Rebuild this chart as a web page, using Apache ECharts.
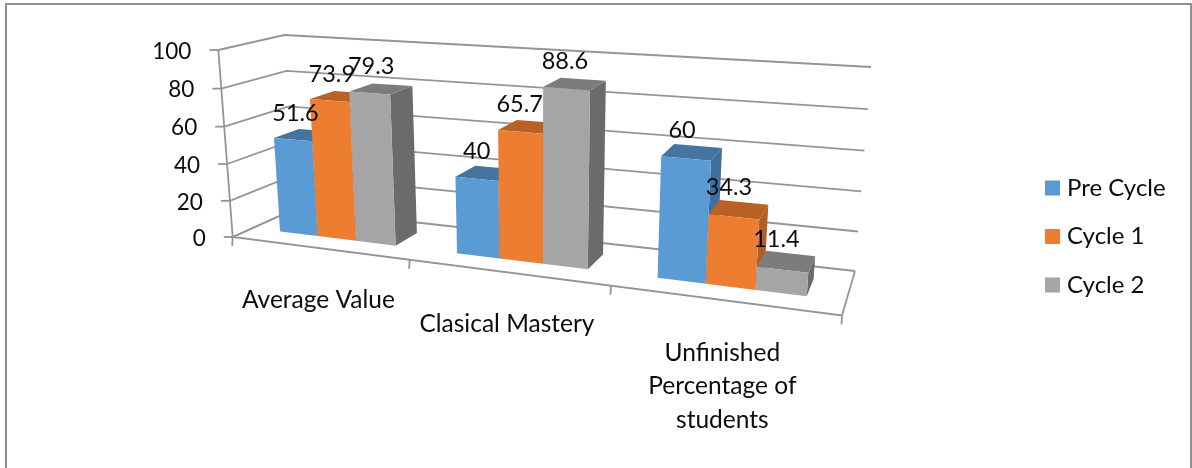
<!DOCTYPE html>
<html>
<head>
<meta charset="utf-8">
<style>html,body{margin:0;padding:0;background:#fff}#chart{width:1192px;height:468px}</style>
<script src="https://cdn.jsdelivr.net/npm/echarts@6/dist/echarts.min.js"></script>
</head>
<body>
<div id="chart"></div>
<script>
// Chart values
const categories = ['Average Value', 'Clasical Mastery', 'Unfinished\nPercentage of\nstudents'];
const preCycle = [51.6, 40, 60];
const cycle1 = [73.9, 65.7, 34.3];
const cycle2 = [79.3, 88.6, 11.4];
const valueTicks = [0, 20, 40, 60, 80, 100];

const FONT = 'Lato, Carlito, "Open Sans", sans-serif';
const AXIS_SIZE = 22.5;
const DATA_SIZE = 23.5;
const WORD_SIZE = 24.5;
const TEXT = '#0c0c0c';
const LINE = '#959595';

// Floor corners of the plot box on the page, and the full box height at each of them.
const floorFL = [232.7, 237], floorFR = [842, 315.5], floorBR = [855, 271], floorBL = [295, 209];
const heightFL = 187, heightFR = 219, heightBR = 204, heightBL = 174;
// Upright edges converge on a point far below the plot, above this x.
const VANISH_X = 540, VANISH_RATE = 2.5e-4;

// Homography from the unit square (u along the categories, d into the depth).
function squareHomography(p0, p1, p2, p3) {
  const dx1 = p1[0] - p2[0], dx2 = p3[0] - p2[0], sx = p0[0] - p1[0] + p2[0] - p3[0];
  const dy1 = p1[1] - p2[1], dy2 = p3[1] - p2[1], sy = p0[1] - p1[1] + p2[1] - p3[1];
  const det = dx1 * dy2 - dx2 * dy1;
  const g = (sx * dy2 - dx2 * sy) / det, h = (dx1 * sy - sx * dy1) / det;
  const a = p1[0] - p0[0] + g * p1[0], b = p3[0] - p0[0] + h * p3[0];
  const d = p1[1] - p0[1] + g * p1[1], e = p3[1] - p0[1] + h * p3[1];
  return (u, t) => {
    const w = g * u + h * t + 1;
    return [(a * u + b * t + p0[0]) / w, (d * u + e * t + p0[1]) / w];
  };
}
const floorAt = squareHomography(floorFL, floorFR, floorBR, floorBL);

const U_SKEW = 1.0775;    // foreshortening along the category direction
const V_SKEW = 0.96;      // foreshortening along the height
function project(u, d, v) {
  const us = U_SKEW * u / (1 - u + U_SKEW * u);
  const vs = V_SKEW * v / (1 - v + V_SKEW * v);
  const f = floorAt(us, d);
  const front = heightFL + (heightFR - heightFL) * us;
  const back = heightBL + (heightBR - heightBL) * us;
  const rise = (front + (back - front) * d) * vs;
  return [f[0] + (f[0] - VANISH_X) * VANISH_RATE * rise, f[1] - rise];
}

// Hidden axes carry the scales; their pixel output is normalised, then projected.
const chart = echarts.init(document.getElementById('chart'), null, { renderer: 'canvas' });
const GRID = { left: 100, top: 50, width: 900, height: 300 };
const normU = px => (px - GRID.left) / GRID.width;
const normV = py => (GRID.top + GRID.height - py) / GRID.height;

const poly = (points, fill, z2) => ({ type: 'polygon', shape: { points }, style: { fill, stroke: null }, z2 });
const seg = (points) => ({ type: 'polyline', shape: { points }, style: { fill: null, stroke: LINE, lineWidth: 1.8 }, z2: 0 });
const label = (x, y, text, align, size, extra) => ({
  type: 'text', z2: 100,
  style: Object.assign({ x, y, text, fill: TEXT, font: size + 'px ' + FONT, textAlign: align, textVerticalAlign: 'middle' }, extra)
});

const DEPTH_NEAR = 0.3, DEPTH_FAR = 0.7;
function barSeries(name, values, slot, colors) {
  return {
    name, type: 'custom', coordinateSystem: 'cartesian2d', clip: false, silent: true,
    itemStyle: { color: colors.front },
    encode: { x: 0, y: 1 },
    data: values.map((v, i) => [i, v]),
    renderItem(params, api) {
      const i = api.value(0), val = api.value(1);
      const center = api.coord([i, val]);
      const band = api.size([1, 0])[0];
      const barW = band / 4.5;
      const x0 = center[0] - band / 2 + (0.75 + slot) * barW;
      const u0 = normU(x0), u1 = normU(x0 + barW), v = normV(center[1]);
      const n = DEPTH_NEAR, f = DEPTH_FAR;
      const top = project((u0 + u1) / 2, (n + f) / 2, v);
      return {
        type: 'group',
        children: [
          poly([project(u1, n, 0), project(u1, f, 0), project(u1, f, v), project(u1, n, v)], colors.side, 10 + slot),
          poly([project(u0, n, v), project(u1, n, v), project(u1, f, v), project(u0, f, v)], colors.top, 10 + slot),
          poly([project(u0, n, 0), project(u1, n, 0), project(u1, n, v), project(u0, n, v)], colors.front, 10 + slot),
          label(top[0] - 10, top[1] - 22, String(val), 'center', DATA_SIZE)
        ]
      };
    }
  };
}

// Walls, value ticks and value labels
const wallSeries = {
  type: 'custom', coordinateSystem: 'cartesian2d', clip: false, silent: true,
  encode: { x: 0, y: 1 },
  data: valueTicks.map(t => [0, t]),
  renderItem(params, api) {
    const t = api.value(1);
    const v = normV(api.coord([0, t])[1]);
    const a = project(0, 0, v), b = project(0, 1, v), c = project(1, 1, v);
    const children = [seg([a, b, c]), seg([[a[0] - 9, a[1]], a]), label(a[0] - 27, a[1] + 1.5, String(t), 'right', AXIS_SIZE)];
    if (t === 0) children.push(seg([project(0, 0, 0), project(0, 0, 1)]));
    return { type: 'group', children };
  }
};

// Floor edges, category ticks and category labels
const floorSeries = {
  type: 'custom', coordinateSystem: 'cartesian2d', clip: false, silent: true,
  encode: { x: 0, y: 1 },
  data: categories.map((c, i) => [i, 0]),
  renderItem(params, api) {
    const i = api.value(0);
    const cx = api.coord([i, 0])[0], band = api.size([1, 0])[0];
    const uL = normU(cx - band / 2), uR = normU(cx + band / 2), uC = normU(cx);
    const tick = u => { const p = project(u, 0, 0); return seg([p, [p[0] - 0.5, p[1] + 9]]); };
    const mid = project(uC, 0, 0);
    const multi = categories[i].indexOf('\n') >= 0;
    const children = [
      tick(uR),
      label(mid[0], mid[1] + (multi ? 36 : 52), categories[i], 'center', WORD_SIZE,
        { lineHeight: 33.5, textVerticalAlign: multi ? 'top' : 'middle' })
    ];
    if (i === 0) {
      children.push(tick(uL));
      children.push(seg([project(0, 1, 0), project(0, 0, 0), project(1, 0, 0), project(1, 1, 0)]));
    }
    return { type: 'group', children };
  }
};

chart.setOption({
  animation: false,
  backgroundColor: '#fff',
  textStyle: { fontFamily: FONT },
  grid: GRID,
  xAxis: { type: 'category', data: categories, show: false },
  yAxis: { type: 'value', min: 0, max: 100, interval: 20, show: false },
  legend: {
    data: ['Pre Cycle', 'Cycle 1', 'Cycle 2'],
    orient: 'vertical', left: 1040, top: 171,
    itemWidth: 15, itemHeight: 15, itemGap: 24.5, icon: 'rect',
    selectedMode: false,
    textStyle: { fontSize: 24, color: TEXT, fontFamily: FONT, padding: [0, 0, 0, 2] }
  },
  graphic: [{
    type: 'polyline', silent: true,
    shape: { points: [[6, 468], [6, 4], [1191, 4], [1191, 468]] },
    style: { fill: null, stroke: '#8f8f8f', lineWidth: 2 }
  }],
  series: [
    wallSeries,
    floorSeries,
    barSeries('Pre Cycle', preCycle, 0, { front: '#5B9BD5', top: '#44749F', side: '#3F6F9C' }),
    barSeries('Cycle 1', cycle1, 1, { front: '#ED7D31', top: '#B86125', side: '#B25E24' }),
    barSeries('Cycle 2', cycle2, 2, { front: '#A5A5A5', top: '#7C7C7C', side: '#6B6B6B' })
  ]
});
</script>
</body>
</html>
